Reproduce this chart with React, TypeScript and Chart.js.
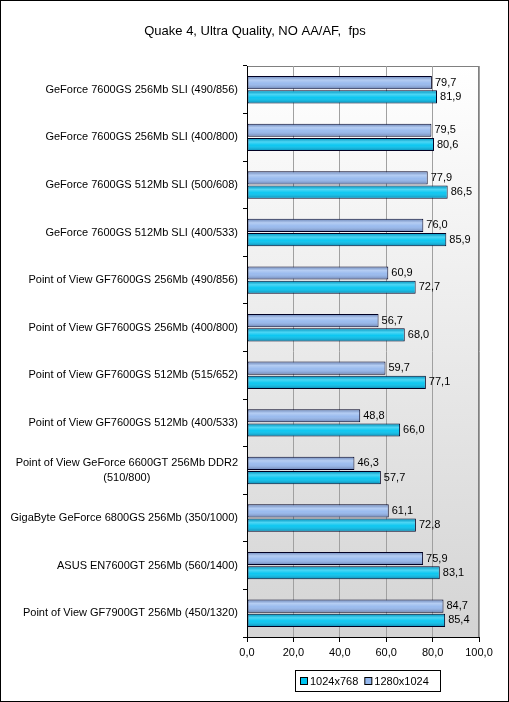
import React, { useEffect, useRef } from "react";
import { Chart, registerables } from "chart.js";

Chart.register(...registerables);

const titleText = "Quake 4, Ultra Quality, NO AA/AF,  fps";

const categories: (string | string[])[] = [
  "GeForce 7600GS 256Mb SLI (490/856)",
  "GeForce 7600GS 256Mb SLI (400/800)",
  "GeForce 7600GS 512Mb SLI (500/608)",
  "GeForce 7600GS 512Mb SLI (400/533)",
  "Point of View GF7600GS 256Mb (490/856)",
  "Point of View GF7600GS 256Mb (400/800)",
  "Point of View GF7600GS 512Mb (515/652)",
  "Point of View GF7600GS 512Mb (400/533)",
  ["Point of View GeForce 6600GT 256Mb DDR2", "(510/800)"],
  "GigaByte GeForce 6800GS 256Mb (350/1000)",
  "ASUS EN7600GT 256Mb (560/1400)",
  "Point of View GF7900GT 256Mb (450/1320)",
];

const series1280 = [79.7, 79.5, 77.9, 76.0, 60.9, 56.7, 59.7, 48.8, 46.3, 61.1, 75.9, 84.7];
const series1024 = [81.9, 80.6, 86.5, 85.9, 72.7, 68.0, 77.1, 66.0, 57.7, 72.8, 83.1, 85.4];

const seriesNames = ["1280x1024", "1024x768"];
const legendOrder = ["1024x768", "1280x1024"];

const xTicks = [0, 20, 40, 60, 80, 100];

const FONT = "Arial, 'Liberation Sans', sans-serif";
const colors: Record<string, string> = { "1280x1024": "#95b8ee", "1024x768": "#00c4f0" };

const fmt = (v: number) => v.toFixed(1).replace(".", ",");

const framePlugin = {
  id: "frame",
  beforeDraw(chart: any) {
    const { ctx, chartArea: a, width, height } = chart;
    ctx.save();
    ctx.fillStyle = "#ffffff";
    ctx.fillRect(0, 0, width, height);
    const g = ctx.createLinearGradient(0, a.top, 0, a.bottom);
    g.addColorStop(0, "#ffffff");
    g.addColorStop(1, "#d4d4d4");
    ctx.fillStyle = g;
    ctx.fillRect(a.left, a.top, a.right - a.left, a.bottom - a.top);
    ctx.strokeStyle = "#808080";
    ctx.lineWidth = 1;
    ctx.strokeRect(a.left + 0.5, a.top + 0.5, a.right - a.left - 1, a.bottom - a.top);
    ctx.restore();
  },
  afterDraw(chart: any) {
    const { ctx, width, height, chartArea: a } = chart;
    ctx.save();
    ctx.strokeStyle = "#000000";
    ctx.lineWidth = 1;
    ctx.strokeRect(0.5, 0.5, width - 1, height - 1);
    ctx.fillStyle = "#000";
    ctx.font = `13px ${FONT}`;
    ctx.textAlign = "center";
    ctx.textBaseline = "middle";
    ctx.fillText(titleText, 255, 31);
    const ys = chart.scales.y;
    ctx.font = `11px ${FONT}`;
    categories.forEach((c, i) => {
      const yc = ys.getPixelForValue(i);
      if (Array.isArray(c)) {
        const w0 = ctx.measureText(c[0]).width;
        const right = a.left - 9;
        const center = right - w0 / 2;
        ctx.textAlign = "center";
        ctx.fillText(c[0], center, yc - 7);
        ctx.fillText(c[1], center, yc + 8);
      } else {
        ctx.textAlign = "right";
        ctx.fillText(c, a.left - 9, yc);
      }
    });
    const lx = 295, ly = 670, lw = 145, lh = 21;
    ctx.strokeStyle = "#000";
    ctx.strokeRect(lx + 0.5, ly + 0.5, lw, lh);
    ctx.textAlign = "left";
    let x = lx + 5;
    legendOrder.forEach((name) => {
      ctx.fillStyle = colors[name];
      ctx.fillRect(x + 0.5, ly + 7.5, 7, 7);
      ctx.strokeStyle = "#000";
      ctx.strokeRect(x + 0.5, ly + 7.5, 7, 7);
      ctx.fillStyle = "#000";
      ctx.fillText(name, x + 10, ly + 11.5);
      x += 10 + ctx.measureText(name).width + 6;
    });
    ctx.restore();
  },
  afterDatasetsDraw(chart: any) {
    const { ctx } = chart;
    ctx.save();
    chart.data.datasets.forEach((ds: any, di: number) => {
      const meta = chart.getDatasetMeta(di);
      meta.data.forEach((bar: any, i: number) => {
        const { x, y, base, height } = bar.getProps(["x", "y", "base", "height"], true);
        const top = y - height / 2;
        const g = ctx.createLinearGradient(0, top, 0, top + height);
        g.addColorStop(0, "rgba(0,0,40,0.25)");
        g.addColorStop(0.3, "rgba(255,255,255,0.3)");
        g.addColorStop(0.55, "rgba(255,255,255,0.05)");
        g.addColorStop(1, "rgba(0,0,40,0.35)");
        ctx.fillStyle = g;
        ctx.fillRect(base + 1, top + 1, x - base - 2, height - 2);
        ctx.fillStyle = "#000";
        ctx.font = `11px ${FONT}`;
        ctx.textAlign = "left";
        ctx.textBaseline = "middle";
        ctx.fillText(fmt(ds.data[i]), x + 3, y);
      });
    });
    ctx.restore();
  },
};

export default function App() {
  const ref = useRef<HTMLCanvasElement>(null);
  useEffect(() => {
    document.body.style.margin = "0";
    const chart = new Chart(ref.current!, {
      type: "bar",
      data: {
        labels: categories.map((c) => (Array.isArray(c) ? c.join(" ") : c)),
        datasets: [
          { label: seriesNames[0], data: series1280, backgroundColor: colors["1280x1024"], borderColor: "#000022", borderWidth: 1, borderSkipped: false },
          { label: seriesNames[1], data: series1024, backgroundColor: colors["1024x768"], borderColor: "#000022", borderWidth: 1, borderSkipped: false },
        ],
      },
      options: {
        indexAxis: "y",
        responsive: false,
        animation: false,
        events: [],
        layout: { padding: { left: 0, right: 30, top: 66, bottom: 0 } },
        datasets: { bar: { categoryPercentage: 0.6, barPercentage: 0.92 } },
        plugins: { legend: { display: false }, title: { display: false }, tooltip: { enabled: false } },
        scales: {
          x: {
            min: 0,
            max: 100,
            afterBuildTicks: (s: any) => { s.ticks = xTicks.map((v) => ({ value: v })); },
            afterFit: (s: any) => { s.height = 65; },
            ticks: { callback: (v: any) => fmt(Number(v)), color: "#000", font: { size: 11, family: FONT }, padding: 4, maxRotation: 0 },
            grid: { color: "#a0a0a0", tickColor: "#000", tickLength: 5, drawOnChartArea: true },
            border: { color: "#000", display: true },
          },
          y: {
            afterFit: (s: any) => { s.width = 247; },
            ticks: { display: false },
            grid: { drawOnChartArea: false, tickColor: "#000", tickLength: 4, offset: true },
            border: { color: "#000" },
          },
        },
      },
      plugins: [framePlugin],
    } as any);
    return () => chart.destroy();
  }, []);
  return <canvas ref={ref} width={509} height={702} style={{ display: "block" }} />;
}
